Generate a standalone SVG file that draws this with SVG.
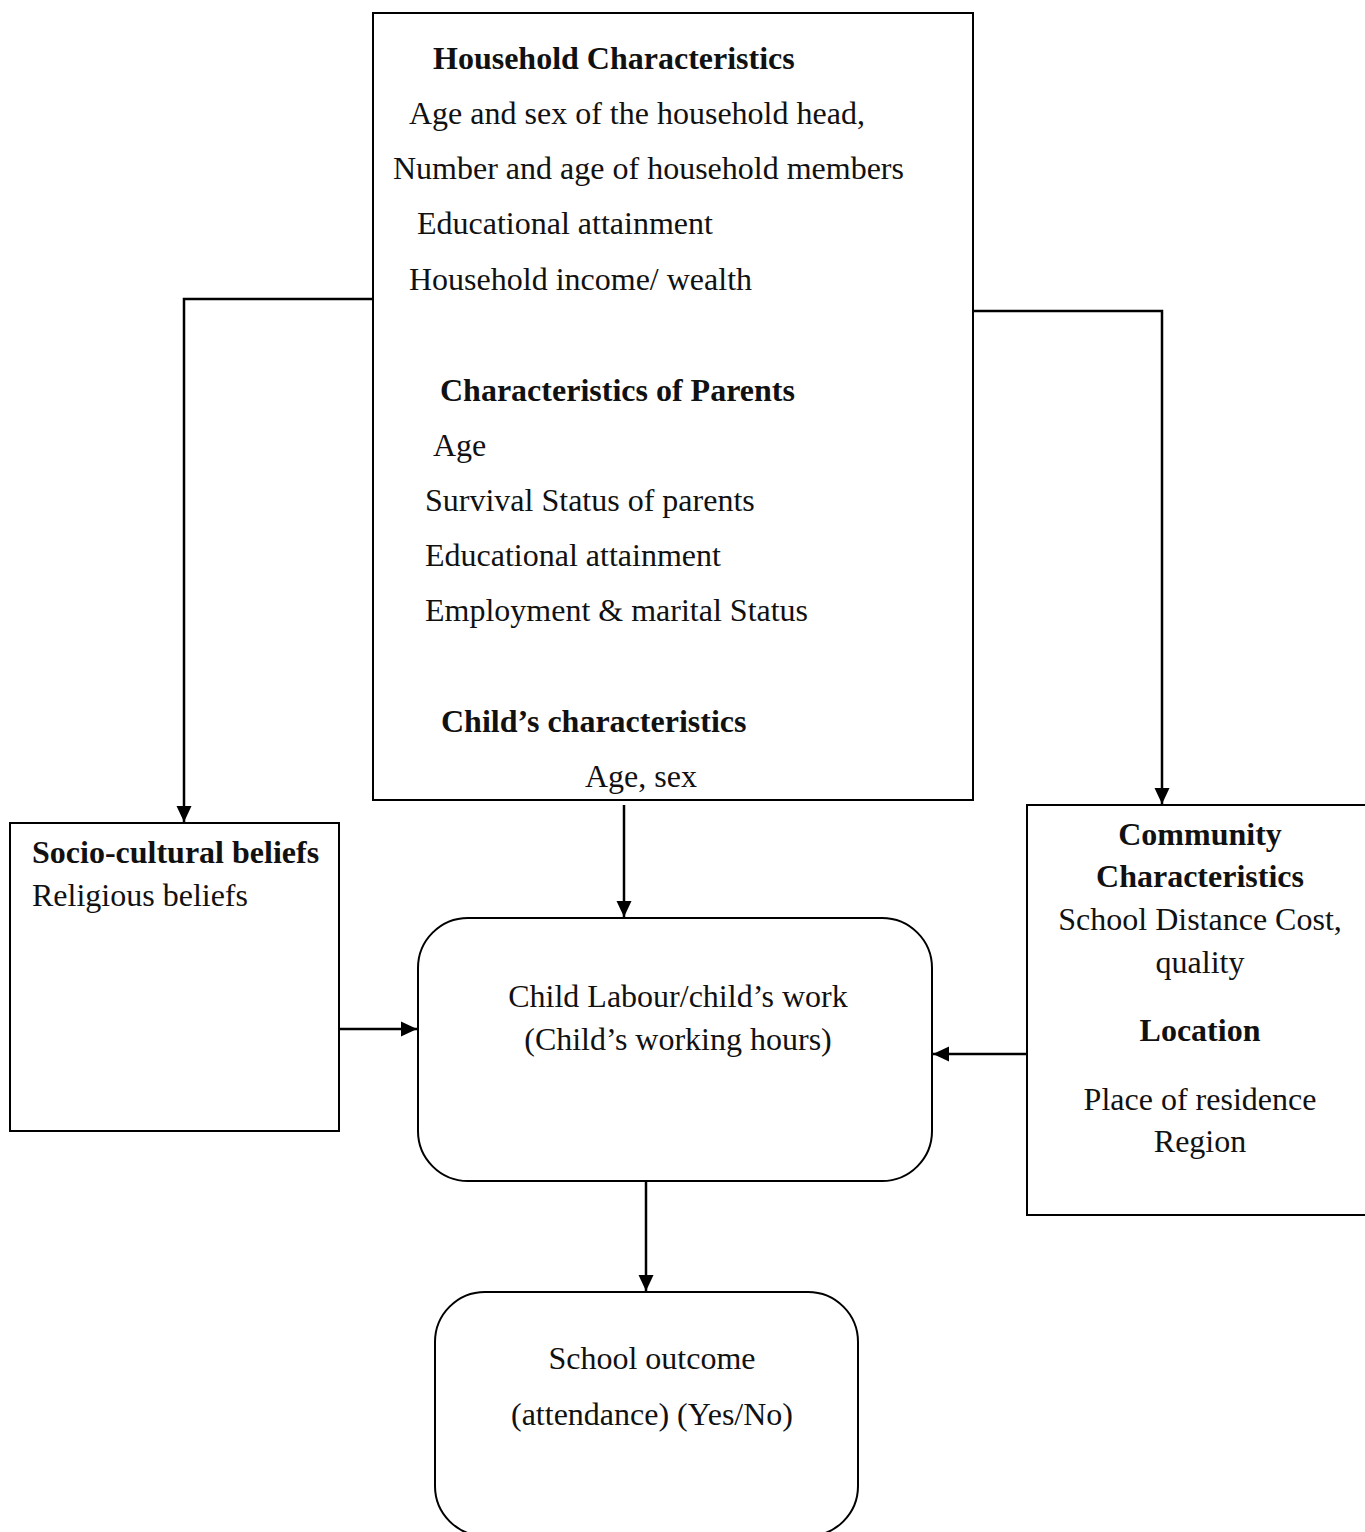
<svg xmlns="http://www.w3.org/2000/svg" width="1365" height="1532" viewBox="0 0 1365 1532">
<style>
.box{fill:#fff;stroke:#000;stroke-width:2}
.t{font-family:"Liberation Serif","Times New Roman",serif;font-size:32px;fill:#111}
.b{font-weight:bold}
.c{text-anchor:middle}
.ln{fill:none;stroke:#000;stroke-width:2.5}
</style>
<defs>
<marker id="ah" markerWidth="16" markerHeight="16" refX="16" refY="8" orient="auto" markerUnits="userSpaceOnUse">
<path d="M0,0.5 L16,8 L0,15.5 Z" fill="#000"/>
</marker>
</defs>
<rect width="1365" height="1532" fill="#fff"/>
<g id="household">
<rect class="box" x="373" y="13" width="600" height="787"/>
<text class="t b" x="433" y="69">Household Characteristics</text>
<text class="t" x="409" y="124">Age and sex of the household head,</text>
<text class="t" x="393" y="179">Number and age of household members</text>
<text class="t" x="417" y="234">Educational attainment</text>
<text class="t" x="409" y="290">Household income/ wealth</text>
<text class="t b" x="440" y="401">Characteristics of Parents</text>
<text class="t" x="433" y="456">Age</text>
<text class="t" x="425" y="511">Survival Status of parents</text>
<text class="t" x="425" y="566">Educational attainment</text>
<text class="t" x="425" y="621">Employment &amp; marital Status</text>
<text class="t b" x="441" y="732">Child’s characteristics</text>
<text class="t" x="585" y="787">Age, sex</text>
</g>
<g id="socio">
<rect class="box" x="10" y="823" width="329" height="308"/>
<text class="t b" x="32" y="863">Socio-cultural beliefs</text>
<text class="t" x="32" y="906">Religious beliefs</text>
</g>
<g id="community">
<rect class="box" x="1027" y="805" width="345" height="410"/>
<text class="t b c" x="1200" y="845">Community</text>
<text class="t b c" x="1200" y="887">Characteristics</text>
<text class="t c" x="1200" y="930">School Distance Cost,</text>
<text class="t c" x="1200" y="973">quality</text>
<text class="t b c" x="1200" y="1041">Location</text>
<text class="t c" x="1200" y="1110">Place of residence</text>
<text class="t c" x="1200" y="1152">Region</text>
</g>
<g id="childlabour">
<rect class="box" x="418" y="918" width="514" height="263" rx="50" ry="50"/>
<text class="t c" x="678" y="1007">Child Labour/child’s work</text>
<text class="t c" x="678" y="1050">(Child’s working hours)</text>
</g>
<g id="school">
<rect class="box" x="435" y="1292" width="423" height="244" rx="50" ry="50"/>
<text class="t c" x="652" y="1369">School outcome</text>
<text class="t c" x="652" y="1425">(attendance) (Yes/No)</text>
</g>
<g id="connectors">
<path class="ln" d="M373,299 L184,299 L184,822" marker-end="url(#ah)"/>
<path class="ln" d="M973,311 L1162,311 L1162,804" marker-end="url(#ah)"/>
<path class="ln" d="M624,805 L624,917" marker-end="url(#ah)"/>
<path class="ln" d="M339,1029 L417,1029" marker-end="url(#ah)"/>
<path class="ln" d="M1027,1054 L933,1054" marker-end="url(#ah)"/>
<path class="ln" d="M646,1181 L646,1291" marker-end="url(#ah)"/>
</g>
</svg>
